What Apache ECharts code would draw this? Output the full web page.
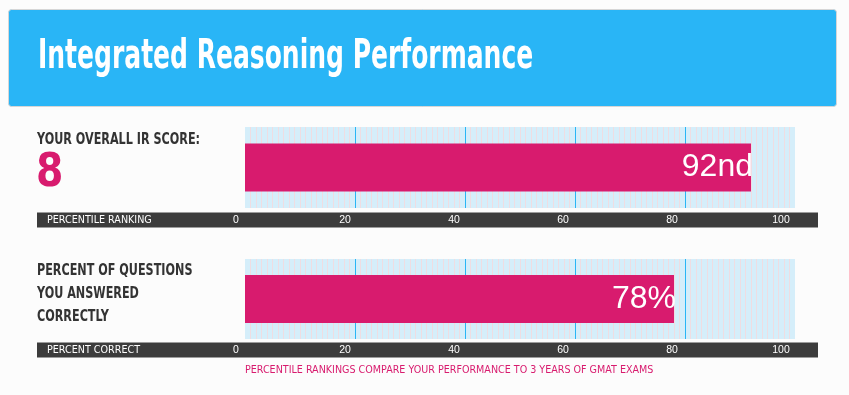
<!DOCTYPE html>
<html>
<head>
<meta charset="utf-8">
<script src="https://cdn.jsdelivr.net/npm/echarts@6/dist/echarts.min.js"></script>
<style>
html,body{margin:0;padding:0;background:#fcfcfc;}
#chart{width:849px;height:395px;}
</style>
</head>
<body>
<div id="chart"></div>
<script>
// ---- data ----
const chartTitle = 'Integrated Reasoning Performance';
const scoreHeading = 'YOUR OVERALL IR SCORE:';
const irScore = ['8'];
const correctHeading = ['PERCENT OF QUESTIONS', 'YOU ANSWERED', 'CORRECTLY'];
const percentileCategory = ['Percentile'];
const percentileValues = [92];
const percentileLabels = ['92nd'];
const correctCategory = ['Correct'];
const correctValues = [78];
const correctLabels = ['78%'];
const tickValues = [0, 20, 40, 60, 80, 100];
const stripLabels = ['PERCENTILE RANKING', 'PERCENT CORRECT'];
const footnote = 'PERCENTILE RANKINGS COMPARE YOUR PERFORMANCE TO 3 YEARS OF GMAT EXAMS';

// ---- styles ----
const PINK = '#d81b6e';
const BLUE = '#29b5f6';
const PALE = '#d5eefa';
const DARK = '#3c3c3c';
const NARROW = '"DejaVu Sans Condensed", "Liberation Sans", sans-serif';
const SANS = '"Liberation Sans", Arial, sans-serif';

const chart = echarts.init(document.getElementById('chart'), null, {renderer: 'canvas'});

function barAxis(gridIndex) {
  return {
    type: 'value', gridIndex: gridIndex, min: tickValues[0], max: tickValues[tickValues.length - 1],
    interval: tickValues[1] - tickValues[0],
    axisLine: {show: false}, axisTick: {show: false}, axisLabel: {show: false},
    splitLine: {show: true, showMinLine: false, showMaxLine: false, lineStyle: {color: '#29b6f6', width: 1}},
    minorTick: {show: false, splitNumber: 20},
    minorSplitLine: {show: true, lineStyle: {color: '#efdde2', width: 1}}
  };
}
function labelAxis(gridIndex) {
  return {
    type: 'value', gridIndex: gridIndex, min: tickValues[0], max: tickValues[tickValues.length - 1],
    interval: tickValues[1] - tickValues[0],
    axisLine: {show: false}, axisTick: {show: false}, splitLine: {show: false},
    axisLabel: {show: true, color: '#ffffff', fontSize: 10.5, fontFamily: SANS, margin: 0, verticalAlign: 'middle'}
  };
}
function catAxis(gridIndex, data) {
  return {type: 'category', gridIndex: gridIndex, data: data, show: false};
}
function barSeries(axisIndex, values, labels) {
  return {
    type: 'bar', xAxisIndex: axisIndex, yAxisIndex: axisIndex, data: values,
    barWidth: 48, itemStyle: {color: PINK}, silent: true,
    label: {
      show: true, position: 'insideRight', offset: [7, 0], color: '#ffffff',
      fontSize: 32, fontFamily: SANS,
      formatter: function (p) { return labels[p.dataIndex]; }
    }
  };
}
function txt(x, y, text, fill, font, sx) {
  return {type: 'text', x: x, y: y, scaleX: sx, scaleY: 1,
          style: {text: text, fill: fill, font: font, verticalAlign: 'middle'}};
}

const option = {
  backgroundColor: '#fcfcfc',
  animation: false,
  grid: [
    {left: 245, top: 127, width: 550, height: 81, show: true, backgroundColor: PALE, borderWidth: 0},
    {left: 245, top: 259, width: 550, height: 80, show: true, backgroundColor: PALE, borderWidth: 0},
    {left: 236, top: 219, width: 545, height: 1},
    {left: 236, top: 349, width: 545, height: 1}
  ],
  xAxis: [barAxis(0), barAxis(1), labelAxis(2), labelAxis(3)],
  yAxis: [catAxis(0, percentileCategory), catAxis(1, correctCategory),
          {type: 'value', gridIndex: 2, show: false}, {type: 'value', gridIndex: 3, show: false}],
  series: [
    barSeries(0, percentileValues, percentileLabels),
    barSeries(1, correctValues, correctLabels)
  ],
  graphic: [
    {type: 'rect', z: -1, shape: {x: 8.5, y: 9.5, width: 828, height: 97, r: 3},
     style: {fill: BLUE, stroke: '#d6d6d6', lineWidth: 1}},
    txt(38, 58, chartTitle, '#ffffff', 'bold 40px ' + NARROW, 0.695),
    txt(37, 140, scoreHeading, '#333333', 'bold 15px ' + NARROW, 0.83),
    txt(36, 174, irScore[0], PINK, 'bold 46px ' + NARROW, 0.95),
    txt(37, 271, correctHeading[0], '#333333', 'bold 15px ' + NARROW, 0.83),
    txt(37, 294, correctHeading[1], '#333333', 'bold 15px ' + NARROW, 0.83),
    txt(37, 317, correctHeading[2], '#333333', 'bold 15px ' + NARROW, 0.83),
    {type: 'rect', z: -1, shape: {x: 37, y: 212.5, width: 781, height: 15}, style: {fill: DARK}},
    {type: 'rect', z: -1, shape: {x: 37, y: 342.5, width: 781, height: 15}, style: {fill: DARK}},
    txt(47, 220, stripLabels[0], '#ffffff', '11px ' + NARROW, 0.97),
    txt(47, 350, stripLabels[1], '#ffffff', '11px ' + NARROW, 0.97),
    txt(245, 370, footnote, PINK, '11px ' + NARROW, 0.967)
  ]
};
chart.setOption(option);
</script>
</body>
</html>
